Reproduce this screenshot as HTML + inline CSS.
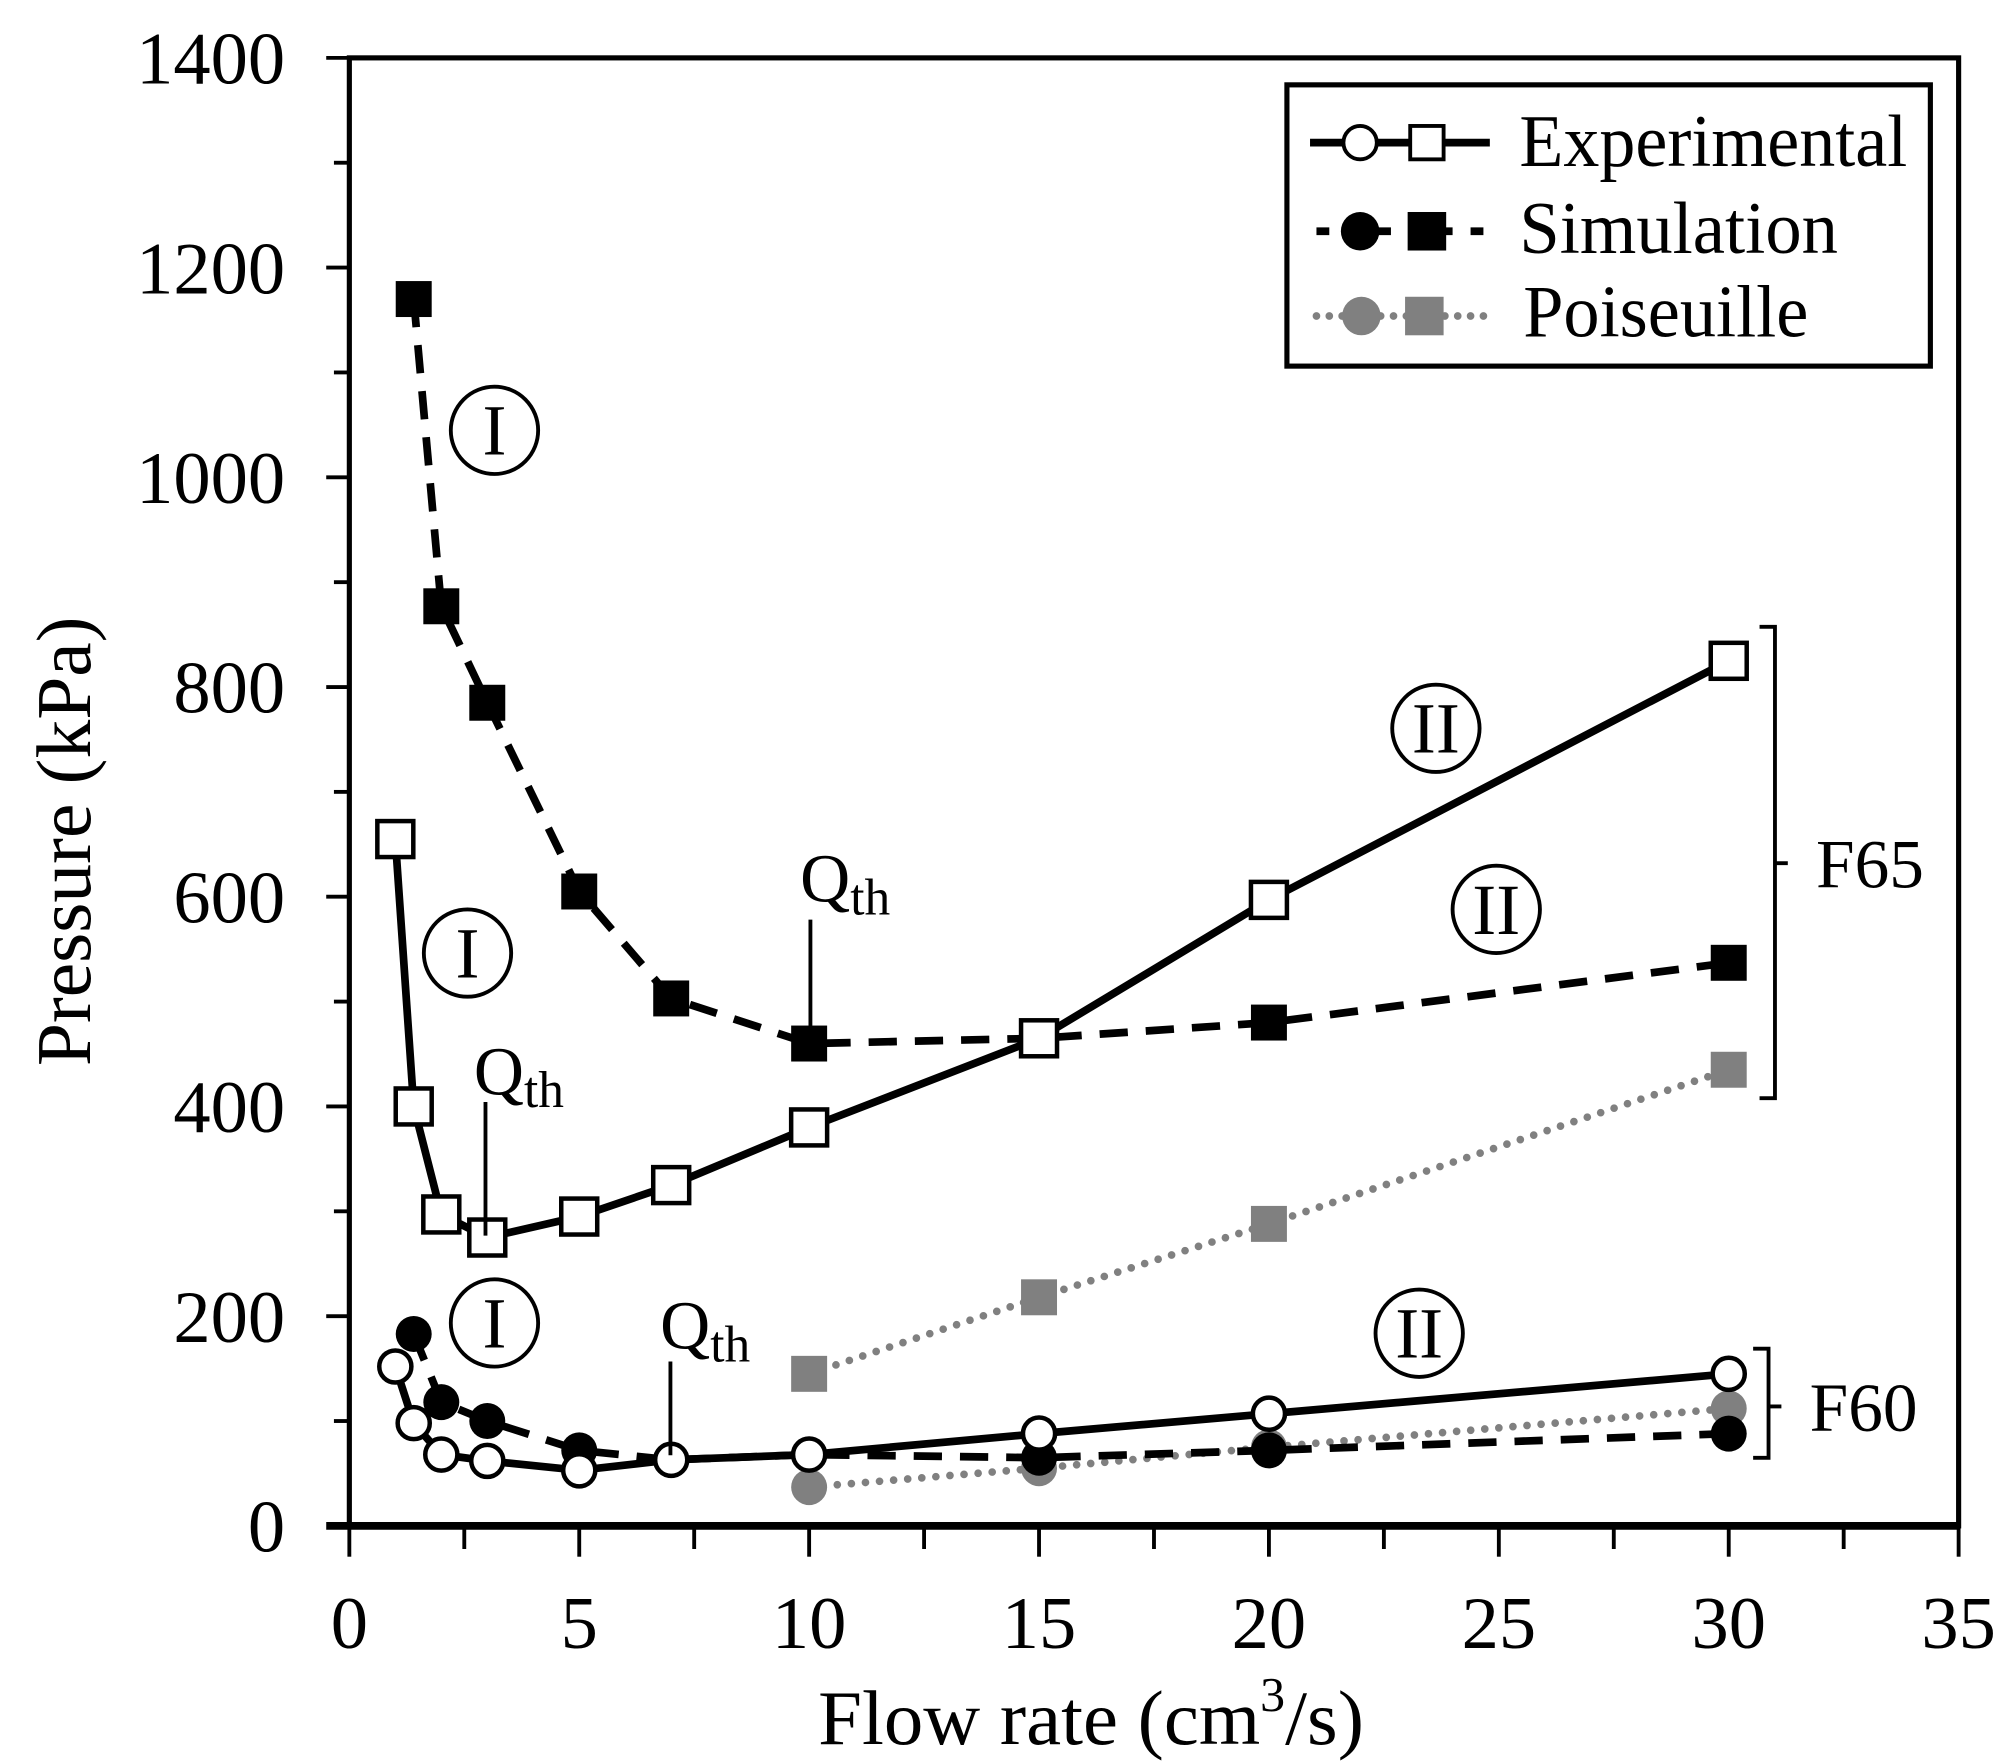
<!DOCTYPE html>
<html><head><meta charset="utf-8"><style>html,body{margin:0;padding:0;background:#fff}svg{display:block}</style></head>
<body>
<svg id="chart" width="2010" height="1761" viewBox="0 0 1565 1371" xmlns="http://www.w3.org/2000/svg" font-family="'Liberation Serif', serif">
<g id="axes"></g>
<g id="series"></g>
<g id="annot"></g>
<g>
<rect x="1002" y="66" width="501" height="219" fill="#fff" stroke="#000" stroke-width="4"/>
<g>
<line x1="1020" y1="111" x2="1160" y2="111" stroke="#000" stroke-width="6"/>
<circle cx="1059" cy="111" r="13" fill="#fff" stroke="#000" stroke-width="3"/>
<rect x="1098" y="98" width="26" height="26" fill="#fff" stroke="#000" stroke-width="3"/>
<text x="1183" y="129" font-size="58" textLength="302" lengthAdjust="spacingAndGlyphs">Experimental</text></g>
<g>
<line x1="1025" y1="180" x2="1160" y2="180" stroke="#000" stroke-width="6" stroke-dasharray="10,14"/>
<circle cx="1059" cy="180" r="15" fill="#000"/>
<rect x="1096" y="165" width="30" height="30" fill="#000"/>
<text x="1183" y="197" font-size="58" textLength="248" lengthAdjust="spacingAndGlyphs">Simulation</text></g>
<g>
<line x1="1025" y1="246" x2="1160" y2="246" stroke="#808080" stroke-width="6" stroke-dasharray="0,10" stroke-linecap="round"/>
<circle cx="1060" cy="246" r="15" fill="#808080"/>
<rect x="1094" y="231" width="30" height="30" fill="#808080"/>
<text x="1186" y="262" font-size="58" textLength="222" lengthAdjust="spacingAndGlyphs">Poiseuille</text></g>
</g>
</svg>
<script>
const expF65X=[1,1.4,2,3,5,7,10,15,20,30];
const expF65Y=[655,400,297,275,295,325,380,465,597,825];
const simF65X=[1.4,2,3,5,7,10,15,20,30];
const simF65Y=[1170,877,785,605,503,460,465,480,537];
const poiF65X=[10,15,20,30];
const poiF65Y=[145,218,288,435];
const expF60X=[1,1.4,2,3,5,7,10,15,20,30];
const expF60Y=[152,98,68,62,53,63,68,88,107,145];
const simF60X=[1.4,2,3,5,7,10,15,20,30];
const simF60Y=[183,118,100,72,63,68,65,72,88];
const poiF60X=[10,15,20,30];
const poiF60Y=[37,55,75,112];
const xTicks=[0,5,10,15,20,25,30,35];
const yTicks=[0,200,400,600,800,1000,1200,1400];

const NS='http://www.w3.org/2000/svg';
const X0=272,X1=1525,Y0=1188,Y1=45;
function sx(v){return X0+(X1-X0)*v/35;}
function sy(v){return Y0-(Y0-Y1)*v/1400;}
function mk(tag,attrs,parent){const e=document.createElementNS(NS,tag);for(const k in attrs)e.setAttribute(k,attrs[k]);parent.appendChild(e);return e;}
const axes=document.getElementById('axes'),series=document.getElementById('series'),annot=document.getElementById('annot');

let fr=mk('rect',{x:X0,y:Y1,width:X1-X0,height:Y0-Y1,fill:'none',stroke:'#000','stroke-width':4},axes);


let xa=mk('line',{x1:X0-18,y1:Y0,x2:X1,y2:Y0,stroke:'#000','stroke-width':6},axes);


for(let v=0;v<=35;v+=2.5){const major=v%5===0;mk('line',{x1:sx(v),y1:Y0,x2:sx(v),y2:Y0+(major?24:18),stroke:'#000','stroke-width':3},axes);}
for(let v=100;v<=1400;v+=100){const major=v%200===0;mk('line',{x1:X0-(major?18:12),y1:sy(v),x2:X0,y2:sy(v),stroke:'#000','stroke-width':3},axes);}
xTicks.forEach(v=>{const t=mk('text',{x:sx(v),y:1283,'font-size':58,'text-anchor':'middle'},axes);t.textContent=v;

});
yTicks.forEach(v=>{const t=mk('text',{x:222,y:sy(v)+20,'font-size':58,'text-anchor':'end'},axes);t.textContent=v;

});
let xt=mk('text',{x:637,y:1358,'font-size':60,textLength:425,lengthAdjust:'spacingAndGlyphs'},axes);
xt.innerHTML='Flow rate (cm<tspan dy="-26" font-size="38">3</tspan><tspan dy="26">/s)</tspan>';


let yt=mk('text',{x:0,y:0,'font-size':60,'text-anchor':'middle',textLength:350,lengthAdjust:'spacingAndGlyphs',transform:'translate(70,655) rotate(-90)'},axes);
yt.textContent='Pressure (kPa)';



function drawSeries(name,xs,ys,color,dash,shape,fill){
 const g=mk('g',{},series);
 
 
 const pts=xs.map((x,i)=>sx(x)+','+sy(ys[i])).join(' ');
 const a={points:pts,fill:'none',stroke:color,'stroke-width':6};
 if(dash==='dash')a['stroke-dasharray']='22,14';
 if(dash==='dot'){a['stroke-dasharray']='0,11';a['stroke-linecap']='round';}
 mk('polyline',a,g);
 xs.forEach((x,i)=>{let m;
  if(shape==='sq')m=mk('rect',{x:sx(x)-14,y:sy(ys[i])-14,width:28,height:28,fill:fill,stroke:fill==='#fff'?'#000':'none','stroke-width':3.5},g);
  else m=mk('circle',{cx:sx(x),cy:sy(ys[i]),r:fill==='#fff'?12.5:14,fill:fill,stroke:fill==='#fff'?'#000':'none','stroke-width':3.5},g);
  
  });
}
drawSeries('poiseuille-f65',poiF65X,poiF65Y,'#808080','dot','sq','#808080');
drawSeries('poiseuille-f60',poiF60X,poiF60Y,'#808080','dot','ci','#808080');
drawSeries('simulation-f65',simF65X,simF65Y,'#000','dash','sq','#000');
drawSeries('simulation-f60',simF60X,simF60Y,'#000','dash','ci','#000');
drawSeries('experimental-f65',expF65X,expF65Y,'#000','solid','sq','#fff');
drawSeries('experimental-f60',expF60X,expF60Y,'#000','solid','ci','#fff');

function roman(cx,cy,txt){const g=mk('g',{},annot);
 
 
 mk('circle',{cx:cx,cy:cy,r:34,fill:'none',stroke:'#000','stroke-width':3},g);
 const t=mk('text',{x:cx,y:cy+19,'font-size':56,'text-anchor':'middle'},g);t.textContent=txt;}
roman(385,335,'I');roman(364,742,'I');roman(385,1030,'I');
roman(1118,567,'II');roman(1165,708,'II');roman(1105,1038,'II');
function qth(x,y,lx,ly1,ly2){const g=mk('g',{},annot);
 
 
 const t=mk('text',{x:x,y:y,'font-size':54},g);t.innerHTML='Q<tspan dy="10" font-size="40">th</tspan>';
 mk('line',{x1:lx,y1:ly1,x2:lx,y2:ly2,stroke:'#000','stroke-width':3},g);}
qth(623,702,631,716,805);qth(369,852,378,858,962);qth(514,1050,522,1060,1133);
function bracket(x,y1,y2,label,ty){const g=mk('g',{},annot);
 
 
 mk('path',{d:`M${x-12},${y1} H${x} V${y2} H${x-12} M${x},${ty} H${x+10}`,fill:'none',stroke:'#000','stroke-width':3},g);
 const t=mk('text',{x:x+32,y:ty+19,'font-size':54},g);t.textContent=label;}
bracket(1382,488,855,'F65',672);bracket(1377,1050,1135,'F60',1095);
</script>
</body></html>
